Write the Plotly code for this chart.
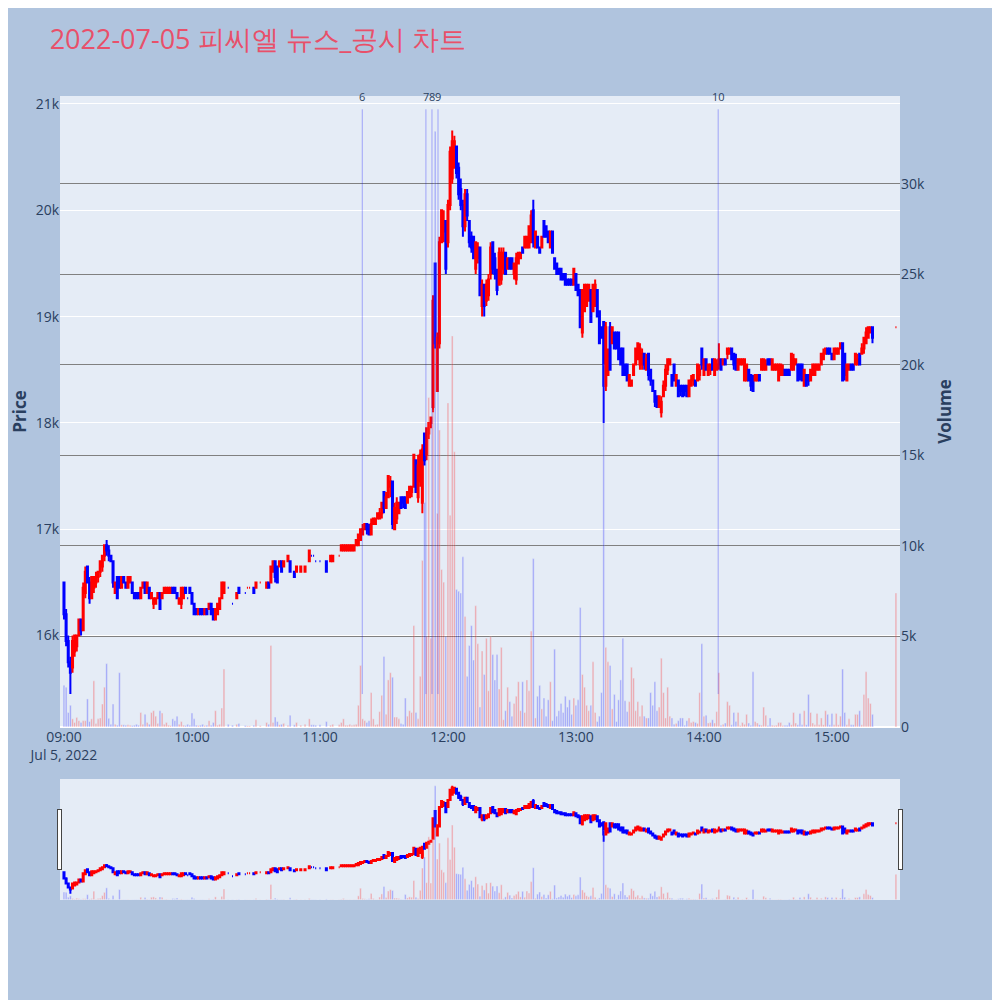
import pandas as pd
import plotly.graph_objects as go
from plotly.subplots import make_subplots

N = None

# 1-minute candles, 09:00 .. 15:30 (None = no trade in that minute)
opens = [
    16500, 16200, 15950, 15750, 15700, 15850, 15900, 16000, 16150, 16050,
    16400, 16650, 16500, 16350, 16450, 16500, 16550, 16600, 16650, 16750,
    16850, 16800, 16750, 16700, 16400, 16550, 16550, 16450, 16550, 16500,
    16450, 16500, 16500, 16400, 16400, 16400, 16350, 16450, 16500, 16400,
    16450, 16350, 16300, 16300, 16350, 16400, 16350, 16400, 16400, 16400,
    16400, 16450, 16450, 16400, 16300, 16300, 16350, 16450, 16350, 16450,
    16400, 16300, 16250, 16200, 16250, 16250, 16200, 16250, 16250, 16300,
    16250, 16150, 16200, 16250, 16350, 16400, N, 16450, N, 16300,
    N, 16350, 16450, N, N, 16400, 16450, 16450, N, 16450,
    16450, N, 16500, N, N, 16450, 16500, 16500, 16600, 16700,
    16650, 16650, 16700, 16650, N, 16700, 16700, N, 16600, 16600,
    N, 16600, N, 16600, N, 16700, 16750, 16750, 16700, N,
    16700, N, N, 16700, N, 16700, 16700, N, N, 16750,
    16800, 16800, 16800, 16800, 16800, 16800, 16800, 16850, 16850, 16900,
    16950, 17000, 17050, 17000, 16950, 17050, 17050, 17100, 17100, 17150,
    17350, 17200, 17300, 17400, 17450, 17000, 17100, 17150, 17300, 17300,
    17300, 17250, 17300, 17350, 17400, 17650, 17300, 17450, 17250, 17900,
    17700, 17900, 18000, 18150, 19500, 18300, 18750, 19700, 19800, 19900,
    19700, 20050, 20300, 20400, 20600, 20400, 20200, 20050, 19850, 20150,
    19900, 19750, 19750, 19450, 19550, 19650, 19100, 19300, 19150, 19200,
    19400, 19700, 19550, 19400, 19300, 19350, 19450, 19600, 19450, 19550,
    19550, 19400, 19350, 19500, 19550, 19650, 19650, 19650, 19650, 19700,
    20000, 19650, 19750, 19650, 19650, 19900, 19850, 19800, 19650, 19800,
    19550, 19500, 19450, 19450, 19400, 19400, 19350, 19350, 19350, 19300,
    19400, 19300, 19250, 18850, 19050, 19100, 19150, 19250, 19050, 19100,
    19250, 19050, 18900, 18950, 18350, 18450, 18900, 18750, 18850, 18850,
    18850, 18700, 18700, 18550, 18550, 18350, 18350, 18450, 18550, 18600,
    18550, 18550, 18650, 18500, 18650, 18500, 18400, 18300, 18250, 18150,
    18100, 18250, 18350, 18500, 18550, 18450, 18550, 18350, 18400, 18350,
    18350, 18350, 18350, 18250, 18350, 18400, 18400, 18400, 18450, 18700,
    18450, 18600, 18450, 18500, 18600, 18450, 18500, 18550, 18600, 18550,
    18600, 18650, 18650, 18700, 18650, 18600, 18500, 18550, 18550, 18400,
    18400, 18500, 18450, 18400, 18400, 18400, 18450, 18500, 18500, 18500,
    18600, 18600, 18500, 18500, 18500, 18400, 18450, 18450, 18500, 18500,
    18500, 18500, 18500, 18550, 18550, 18550, 18550, 18350, 18450, 18450,
    18400, 18450, 18450, 18500, 18500, 18550, 18600, 18650, 18700, 18700,
    18650, 18600, 18650, 18650, 18700, 18750, 18650, 18400, 18500, 18550,
    18550, 18550, 18550, 18650, 18650, 18700, 18750, 18800, 18850, 18900,
    N, N, N, N, N, N, N, N, N, N,
    18900,
]

highs = [
    16500, 16250, 16000, 15800, 16000, 16000, 16000, 16150, 16150, 16500,
    16650, 16650, 16550, 16550, 16550, 16600, 16600, 16700, 16750, 16850,
    16900, 16850, 16750, 16700, 16500, 16550, 16550, 16550, 16550, 16500,
    16550, 16550, 16500, 16400, 16400, 16400, 16450, 16500, 16500, 16500,
    16450, 16400, 16350, 16350, 16400, 16400, 16400, 16450, 16450, 16450,
    16450, 16450, 16450, 16400, 16350, 16450, 16450, 16450, 16350, 16450,
    16400, 16300, 16250, 16250, 16250, 16250, 16250, 16250, 16300, 16300,
    16250, 16250, 16300, 16350, 16500, 16500, N, 16450, N, 16300,
    N, 16400, 16450, N, N, 16400, 16450, 16450, N, 16450,
    16500, N, 16500, N, N, 16500, 16500, 16650, 16700, 16700,
    16650, 16700, 16700, 16700, N, 16750, 16700, N, 16600, 16650,
    N, 16650, N, 16650, N, 16800, 16750, 16750, 16700, N,
    16700, N, N, 16700, N, 16750, 16750, N, N, 16750,
    16850, 16850, 16850, 16850, 16850, 16850, 16850, 16900, 16950, 17000,
    17050, 17050, 17050, 17050, 17100, 17100, 17100, 17150, 17200, 17250,
    17350, 17350, 17500, 17500, 17450, 17250, 17300, 17250, 17300, 17300,
    17300, 17350, 17400, 17400, 17700, 17650, 17700, 17750, 17800, 17900,
    17950, 18000, 18050, 19200, 19500, 18850, 19750, 20000, 20000, 19900,
    20100, 20600, 20750, 20700, 20600, 20450, 20300, 20100, 20200, 20200,
    19900, 19800, 19750, 19700, 19700, 19650, 19350, 19300, 19350, 19400,
    19700, 19700, 19600, 19450, 19650, 19650, 19650, 19600, 19550, 19550,
    19550, 19500, 19600, 19600, 19600, 19650, 19750, 19750, 19850, 20000,
    20100, 19800, 19750, 19650, 19750, 19900, 19850, 19800, 19800, 19800,
    19550, 19500, 19450, 19450, 19400, 19400, 19350, 19350, 19350, 19450,
    19400, 19300, 19250, 19250, 19300, 19300, 19300, 19250, 19300, 19350,
    19250, 19050, 18900, 18950, 18950, 18700, 18950, 18900, 18850, 18850,
    18850, 18700, 18700, 18550, 18550, 18450, 18400, 18550, 18700, 18750,
    18750, 18700, 18650, 18650, 18650, 18500, 18400, 18300, 18250, 18250,
    18250, 18400, 18550, 18600, 18600, 18450, 18550, 18450, 18400, 18350,
    18350, 18350, 18350, 18400, 18450, 18450, 18400, 18550, 18550, 18700,
    18600, 18600, 18550, 18550, 18600, 18600, 18600, 18750, 18600, 18600,
    18600, 18700, 18700, 18700, 18650, 18650, 18600, 18600, 18600, 18600,
    18550, 18500, 18450, 18450, 18450, 18450, 18450, 18600, 18600, 18600,
    18600, 18600, 18600, 18550, 18550, 18550, 18550, 18550, 18500, 18500,
    18500, 18650, 18650, 18600, 18550, 18550, 18550, 18500, 18450, 18450,
    18500, 18550, 18550, 18550, 18550, 18650, 18700, 18700, 18700, 18700,
    18650, 18700, 18700, 18700, 18750, 18750, 18650, 18550, 18550, 18550,
    18550, 18650, 18650, 18650, 18750, 18800, 18900, 18900, 18900, 18900,
    N, N, N, N, N, N, N, N, N, N,
    18900,
]

lows = [
    16150, 15900, 15700, 15450, 15650, 15800, 15850, 16000, 16000, 16050,
    16350, 16500, 16300, 16350, 16400, 16450, 16500, 16550, 16600, 16700,
    16750, 16700, 16700, 16450, 16400, 16350, 16450, 16450, 16500, 16450,
    16450, 16500, 16400, 16350, 16350, 16350, 16350, 16450, 16400, 16400,
    16350, 16350, 16250, 16300, 16350, 16250, 16350, 16400, 16400, 16400,
    16400, 16400, 16400, 16350, 16300, 16250, 16350, 16400, 16350, 16400,
    16300, 16200, 16200, 16200, 16200, 16200, 16200, 16200, 16250, 16200,
    16150, 16150, 16200, 16250, 16350, 16400, N, 16450, N, 16300,
    N, 16350, 16400, N, N, 16400, 16450, 16450, N, 16400,
    16450, N, 16500, N, N, 16450, 16450, 16500, 16600, 16500,
    16500, 16650, 16600, 16650, N, 16700, 16600, N, 16550, 16600,
    N, 16600, N, 16600, N, 16700, 16750, 16750, 16700, N,
    16700, N, N, 16600, N, 16700, 16700, N, N, 16750,
    16800, 16800, 16800, 16800, 16800, 16800, 16800, 16850, 16850, 16900,
    16950, 17000, 16950, 16950, 16950, 17050, 17050, 17100, 17100, 17100,
    17150, 17200, 17300, 17300, 17000, 17000, 17050, 17150, 17200, 17200,
    17200, 17250, 17300, 17300, 17400, 17350, 17250, 17400, 17150, 17600,
    17650, 17850, 17950, 18100, 18700, 18300, 18700, 19700, 19700, 19400,
    19650, 20000, 20250, 20400, 20300, 20100, 20000, 19750, 19800, 19900,
    19650, 19600, 19550, 19400, 19500, 19200, 19000, 19000, 19100, 19150,
    19350, 19400, 19350, 19200, 19300, 19300, 19400, 19400, 19450, 19450,
    19450, 19350, 19300, 19500, 19550, 19600, 19650, 19650, 19650, 19700,
    19650, 19650, 19650, 19600, 19650, 19750, 19750, 19700, 19650, 19600,
    19450, 19400, 19400, 19350, 19350, 19300, 19300, 19300, 19300, 19300,
    19250, 19200, 18900, 18800, 19050, 19100, 19150, 18950, 19050, 19100,
    19000, 18750, 18800, 18000, 18300, 18450, 18500, 18750, 18700, 18700,
    18600, 18550, 18450, 18450, 18400, 18350, 18350, 18450, 18550, 18600,
    18500, 18500, 18500, 18500, 18400, 18350, 18300, 18150, 18150, 18150,
    18050, 18250, 18300, 18450, 18550, 18350, 18400, 18350, 18250, 18250,
    18250, 18250, 18250, 18250, 18350, 18350, 18350, 18400, 18400, 18500,
    18450, 18500, 18450, 18450, 18500, 18450, 18500, 18500, 18500, 18550,
    18550, 18600, 18650, 18600, 18500, 18500, 18500, 18550, 18550, 18400,
    18400, 18400, 18300, 18300, 18400, 18400, 18400, 18500, 18500, 18500,
    18550, 18550, 18500, 18500, 18500, 18400, 18450, 18450, 18450, 18450,
    18450, 18500, 18500, 18550, 18400, 18400, 18400, 18350, 18350, 18350,
    18400, 18450, 18450, 18500, 18500, 18550, 18600, 18650, 18650, 18650,
    18600, 18600, 18650, 18650, 18700, 18400, 18400, 18400, 18500, 18500,
    18500, 18550, 18550, 18550, 18650, 18650, 18750, 18800, 18850, 18750,
    N, N, N, N, N, N, N, N, N, N,
    18900,
]

closes = [
    16200, 15950, 15750, 15650, 15950, 16000, 16000, 16150, 16050, 16450,
    16600, 16500, 16350, 16550, 16550, 16550, 16600, 16700, 16750, 16850,
    16800, 16750, 16700, 16500, 16500, 16350, 16450, 16550, 16500, 16450,
    16550, 16550, 16400, 16350, 16350, 16350, 16450, 16500, 16400, 16500,
    16350, 16400, 16350, 16350, 16400, 16250, 16400, 16450, 16450, 16450,
    16450, 16400, 16400, 16350, 16350, 16450, 16450, 16400, 16350, 16400,
    16300, 16200, 16200, 16250, 16200, 16200, 16250, 16200, 16300, 16200,
    16150, 16250, 16300, 16350, 16500, 16500, N, 16450, N, 16300,
    N, 16400, 16400, N, N, 16400, 16450, 16450, N, 16400,
    16500, N, 16500, N, N, 16500, 16450, 16650, 16700, 16550,
    16500, 16700, 16600, 16700, N, 16750, 16600, N, 16550, 16650,
    N, 16650, N, 16650, N, 16800, 16750, 16750, 16700, N,
    16700, N, N, 16600, N, 16750, 16750, N, N, 16750,
    16850, 16850, 16850, 16850, 16850, 16850, 16850, 16900, 16950, 17000,
    17000, 17050, 17000, 16950, 17050, 17100, 17100, 17150, 17150, 17250,
    17200, 17300, 17500, 17450, 17050, 17200, 17250, 17250, 17200, 17250,
    17200, 17350, 17400, 17400, 17700, 17350, 17600, 17700, 17750, 17650,
    17950, 18000, 18050, 19150, 18750, 18800, 19700, 20000, 19900, 19450,
    20050, 20550, 20650, 20650, 20350, 20150, 20050, 19850, 20150, 19950,
    19700, 19650, 19550, 19700, 19650, 19200, 19300, 19100, 19300, 19350,
    19650, 19450, 19400, 19250, 19600, 19600, 19600, 19400, 19550, 19450,
    19450, 19500, 19550, 19600, 19600, 19600, 19750, 19750, 19850, 19950,
    19700, 19800, 19650, 19600, 19750, 19750, 19750, 19700, 19800, 19600,
    19450, 19400, 19400, 19350, 19350, 19300, 19300, 19300, 19300, 19450,
    19250, 19200, 18900, 19250, 19300, 19300, 19300, 18950, 19300, 19300,
    19000, 18750, 18800, 18350, 18900, 18650, 18500, 18900, 18700, 18700,
    18600, 18550, 18450, 18450, 18400, 18450, 18400, 18550, 18700, 18750,
    18700, 18650, 18550, 18600, 18450, 18400, 18300, 18200, 18150, 18250,
    18200, 18350, 18500, 18600, 18600, 18350, 18400, 18450, 18250, 18300,
    18250, 18300, 18250, 18400, 18400, 18450, 18350, 18550, 18500, 18550,
    18600, 18500, 18550, 18550, 18500, 18600, 18550, 18600, 18500, 18600,
    18550, 18700, 18700, 18600, 18550, 18500, 18600, 18600, 18600, 18600,
    18550, 18400, 18350, 18300, 18450, 18450, 18400, 18600, 18600, 18550,
    18550, 18550, 18600, 18550, 18550, 18550, 18550, 18500, 18450, 18450,
    18450, 18650, 18600, 18600, 18400, 18450, 18400, 18500, 18350, 18400,
    18500, 18550, 18550, 18550, 18550, 18650, 18650, 18700, 18650, 18650,
    18600, 18700, 18700, 18700, 18750, 18400, 18450, 18550, 18550, 18500,
    18500, 18650, 18600, 18550, 18700, 18800, 18850, 18900, 18900, 18800,
    N, N, N, N, N, N, N, N, N, N,
    18900,
]

volumes = [
    2300, 2200, 800, 1200, 450, 250, 530, 350, 250, 350,
    350, 1550, 300, 450, 2550, 200, 450, 500, 1270, 2200,
    3500, 480, 150, 1270, 150, 100, 3000, 120, 120, 100,
    120, 100, 80, 100, 150, 100, 800, 150, 700, 250,
    150, 800, 900, 600, 200, 900, 770, 150, 250, 100,
    80, 450, 350, 600, 150, 300, 100, 80, 150, 100,
    770, 450, 100, 80, 100, 150, 80, 100, 350, 100,
    250, 900, 100, 150, 1050, 3200, N, 150, N, 100,
    N, 150, 200, N, N, 80, 60, 60, N, 100,
    400, N, 80, N, N, 250, 150, 4500, 250, 550,
    300, 120, 150, 200, N, 100, 650, N, 120, 250,
    N, 100, N, 150, N, 450, 120, 120, 100, N,
    130, N, N, 300, N, 100, 150, N, N, 130,
    250, 450, 100, 100, 150, 100, 120, 150, 1200, 3400,
    450, 350, 250, 350, 1900, 450, 120, 150, 850, 1750,
    3900, 700, 2600, 3000, 2750, 550, 550, 450, 200, 150,
    1600, 600, 900, 800, 5600, 800, 450, 2800, 9200, 12400,
    5000, 18200, 4900, 17500, 32900, 11800, 16400, 8700, 8000, 5000,
    17900, 11700, 21600, 15200, 7600, 7500, 7400, 9400, 6100, 2800,
    4500, 5600, 3700, 6700, 4600, 1100, 4200, 2900, 4900, 2000,
    5000, 4000, 2600, 4000, 2100, 4400, 400, 900, 2200, 1400,
    600, 1300, 1700, 2500, 900, 2500, 800, 2600, 2000, 5300,
    9300, 500, 1700, 2300, 1000, 1600, 600, 1500, 2500, 350,
    4300, 600, 900, 1300, 800, 1700, 1100, 1500, 700, 1600,
    1200, 1500, 6600, 2900, 2200, 1200, 900, 1200, 3600, 800,
    300, 600, 1900, 20000, 4400, 3600, 3400, 1000, 1800, 300,
    1500, 2600, 4900, 1450, 850, 1400, 3300, 2700, 900, 1400,
    600, 1200, 600, 500, 500, 1900, 1200, 2500, 900, 1100,
    3800, 1900, 500, 2200, 600, 500, 150, 200, 350, 500,
    500, 100, 350, 500, 250, 300, 250, 200, 1900, 4600,
    600, 650, 220, 250, 400, 220, 850, 3000, 100, 150,
    220, 1400, 1200, 120, 800, 300, 800, 80, 250, 150,
    700, 220, 100, 3050, 300, 220, 120, 100, 1100, 650,
    80, 500, 100, 80, 100, 250, 250, 80, 100, 100,
    250, 120, 800, 220, 120, 750, 120, 900, 120, 1800,
    800, 220, 120, 750, 120, 500, 120, 900, 700, 120,
    750, 120, 750, 120, 600, 3200, 800, 120, 450, 120,
    120, 700, 700, 900, 120, 1800, 3050, 1600, 1300, 700,
    N, N, N, N, N, N, N, N, N, N,
    7400,
]

# news / disclosure markers
news_times = ['2022-07-05 11:19:50', '2022-07-05 11:49:40', '2022-07-05 11:52:30',
              '2022-07-05 11:55:20', '2022-07-05 14:06:40']
news_labels = ['6', '7', '8', '9', '10']

title = '2022-07-05 피씨엘 뉴스_공시 차트'

times = pd.date_range('2022-07-05 09:00', periods=len(opens), freq='min')

# volume colour follows the candle direction
vol_colors = []
up = True
prev_c = None
for o, c in zip(opens, closes):
    if o is not None:
        if c != o:
            up = c > o
        elif prev_c is not None and c != prev_c:
            up = c > prev_c
        prev_c = c
    vol_colors.append('red' if up else 'blue')

fig = make_subplots(specs=[[{"secondary_y": True}]])
fig.add_trace(go.Candlestick(x=times, open=opens, high=highs, low=lows, close=closes,
                             increasing_line_color='red', increasing_fillcolor='red',
                             decreasing_line_color='blue', decreasing_fillcolor='blue',
                             name='Price'), secondary_y=False)
fig.add_trace(go.Bar(x=times, y=volumes, marker_color=vol_colors, opacity=0.3,
                     name='Volume'), secondary_y=True)

low_all = min(v for v in lows if v is not None)
for t, lab in zip(news_times, news_labels):
    fig.add_shape(type='line', x0=t, x1=t, y0=low_all, y1=20950, xref='x', yref='y',
                  line=dict(color='blue', width=1), opacity=0.3)
    fig.add_annotation(x=t, y=1, xref='x', yref='paper', text=lab, showarrow=False,
                       yanchor='middle', font=dict(size=11))

fig.update_xaxes(range=['2022-07-05 08:58:08', '2022-07-05 15:31:54'], domain=[0, 1],
                 showgrid=False, rangeslider=dict(visible=True))
fig.update_yaxes(title_text='<b>Price</b>', title_standoff=20, range=[15140, 21075],
                 automargin=False, secondary_y=False)
fig.update_yaxes(title_text='<b>Volume</b>', range=[0, 34850], showgrid=True,
                 gridcolor='gray', automargin=False, secondary_y=True)
# page body adds an 8px offset, so the figure is 992px and margins are shifted
fig.update_layout(
    title=dict(text=title, x=0.042, y=0.968, xanchor='left', yanchor='middle',
               font=dict(size=27, color='#E8506A')),
    font=dict(size=14),
    width=992, height=992,
    paper_bgcolor='#B0C4DE',
    showlegend=False,
    margin=dict(l=52, r=100, t=88, b=100),
)

fig.write_html("out.html")
